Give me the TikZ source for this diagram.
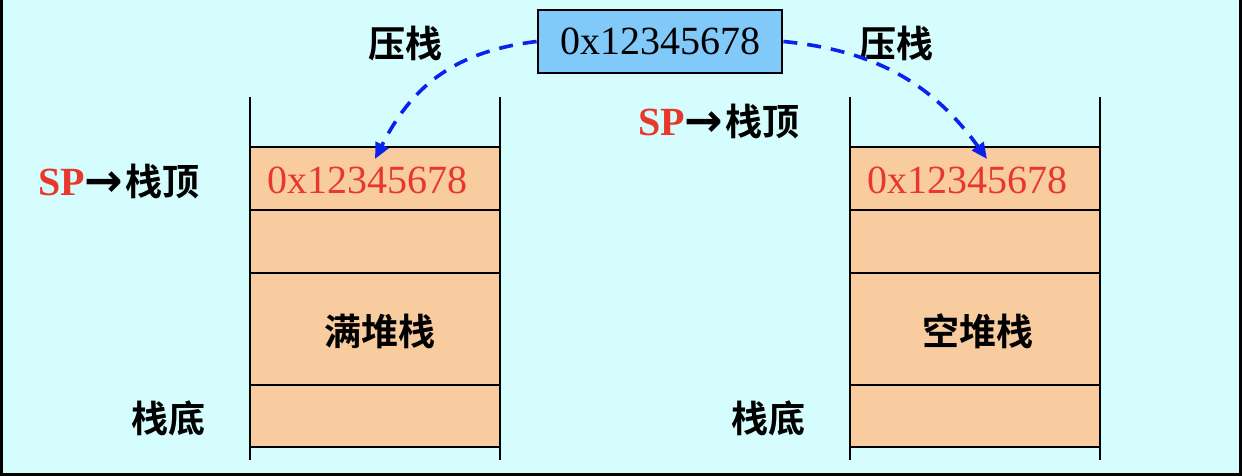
\documentclass[tikz,border=0pt]{standalone}
\usepackage{fontspec}
\setmainfont{Liberation Serif}
\newfontfamily\cjk{Noto Sans CJK SC}[BoldFont={* Bold}]
\newfontfamily\arrowfont{DejaVu Sans}
\usetikzlibrary{arrows.meta}
\definecolor{bgc}{HTML}{D5FDFD}
\definecolor{cellc}{HTML}{F8CC9F}
\definecolor{boxc}{HTML}{80C9F9}
\definecolor{redc}{HTML}{E8382B}
\definecolor{arrc}{HTML}{0A22EE}
\newcommand{\splabel}{{\fontspec{Liberation Serif}\bfseries\fontsize{40bp}{44bp}\selectfont\color{redc}SP}{\arrowfont\bfseries\fontsize{46bp}{40bp}\selectfont\raisebox{-1bp}{→}}\kern2bp 栈顶}
\tikzset{
  x=1bp, y=-1bp,
  cell/.style={draw=black, line width=2.8bp, fill=cellc, minimum width=250bp, inner sep=0pt, outer sep=0pt},
  hexval/.style={font=\fontsize{40bp}{44bp}\selectfont, inner sep=0pt},
  cjklabel/.style={font=\cjk\bfseries\fontsize{37bp}{40bp}\selectfont, inner sep=0pt},
  pusharrow/.style={draw=arrc, line width=3.6bp, dash pattern=on 14bp off 10bp, -{Triangle[length=16bp,width=14bp]}},
  rail/.style={line width=2.8bp}
}
\begin{document}
\begin{tikzpicture}
\useasboundingbox (0,0) rectangle (1242,476);
\fill[bgc] (0,0) rectangle (1242,476);
\draw[line width=3bp] (1.5,-5) -- (1.5,474.5) -- (1240.5,474.5) -- (1240.5,-5);

% left stack (full)
\node[cell, minimum height=63bp] (L1) at (375,178.5) {};
\node[cell, minimum height=63bp] (L2) at (375,241.5) {};
\node[cell, minimum height=112bp] (L3) at (375,329) {};
\node[cell, minimum height=62bp] (L4) at (375,416) {};
\coordinate (Ltop) at (250,97);
\coordinate (Lbot) at (250,460);
\coordinate (Rtop) at (500,97);
\coordinate (Rbot) at (500,460);
\draw[rail] (Ltop) -- (Lbot);
\draw[rail] (Rtop) -- (Rbot);
\node[hexval, text=redc] (Lval) at (367,180) {0x12345678};
\node[cjklabel] (Lname) at (380,331) {满堆栈};

% right stack (empty)
\node[cell, minimum height=63bp] (R1) at (975,178.5) {};
\node[cell, minimum height=63bp] (R2) at (975,241.5) {};
\node[cell, minimum height=112bp] (R3) at (975,329) {};
\node[cell, minimum height=62bp] (R4) at (975,416) {};
\coordinate (Mtop) at (850,97);
\coordinate (Mbot) at (850,460);
\coordinate (Ntop) at (1100,97);
\coordinate (Nbot) at (1100,460);
\draw[rail] (Mtop) -- (Mbot);
\draw[rail] (Ntop) -- (Nbot);
\node[hexval, text=redc] (Rval) at (967,180) {0x12345678};
\node[cjklabel] (Rname) at (978,331) {空堆栈};

% labels
\node[cjklabel, anchor=west] (Lsp) at (38,181) {\splabel};
\node[cjklabel, anchor=west] (Rsp) at (638,121) {\splabel};
\node[cjklabel] (Lbase) at (168,418) {栈底};
\node[cjklabel] (Rbase) at (768,418) {栈底};
\node[cjklabel] (Lpush) at (405,43) {压栈};
\node[cjklabel] (Rpush) at (896,43) {压栈};

% value box
\node[draw=black, line width=2.8bp, fill=boxc, minimum width=244bp, minimum height=63bp, inner sep=0pt] (val) at (660,41.5) {};
\node[hexval] (valtext) at (val.center) {0x12345678};

% arrows
\coordinate (Ltip) at (375,159);
\coordinate (Rtip) at (987,159);
\draw[pusharrow] (val.west) .. controls (450,52) and (410,90) .. (Ltip);
\draw[pusharrow] (val.east) .. controls (870,50) and (930,80) .. (Rtip);
\end{tikzpicture}
\end{document}
